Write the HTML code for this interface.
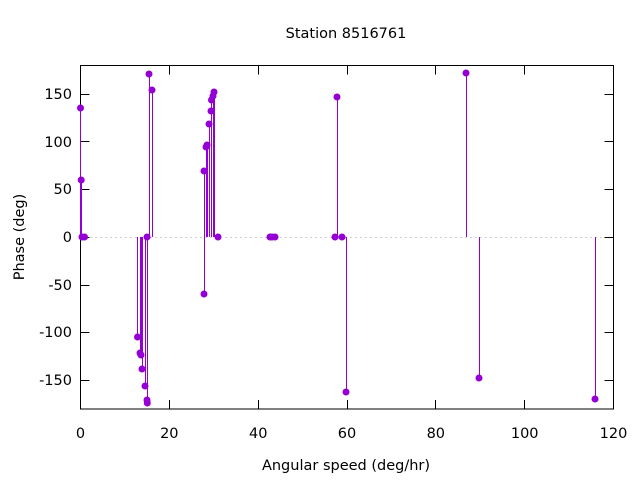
<!DOCTYPE html>
<html><head><meta charset="utf-8"><style>
html,body{margin:0;padding:0;background:#fff;}
svg{display:block;}
text{font-family:"DejaVu Sans","Liberation Sans",sans-serif;font-size:14.5px;fill:#000;}
</style></head><body>
<svg width="640" height="480" viewBox="0 0 640 480" xmlns="http://www.w3.org/2000/svg">
<rect width="640" height="480" fill="#fff"/>
<line x1="80.5" y1="237.5" x2="613.5" y2="237.5" stroke="#a0a0a0" stroke-width="1" stroke-dasharray="1,4"/>
<g stroke="#000" stroke-width="1" shape-rendering="crispEdges">
<rect x="80.5" y="65.5" width="533" height="343.5" fill="none"/>
<path d="M80.5 94.5h9M80.5 141.5h9M80.5 189.5h9M80.5 237.5h9M80.5 285.5h9M80.5 332.5h9M80.5 380.5h9
M613.5 94.5h-9M613.5 141.5h-9M613.5 189.5h-9M613.5 237.5h-9M613.5 285.5h-9M613.5 332.5h-9M613.5 380.5h-9"/>
<path d="M80.5 409v-9M169.5 409v-9M258.5 409v-9M347.5 409v-9M435.5 409v-9M524.5 409v-9M613.5 409v-9
M80.5 65.5v9M169.5 65.5v9M258.5 65.5v9M347.5 65.5v9M435.5 65.5v9M524.5 65.5v9M613.5 65.5v9"/>
</g>
<g text-anchor="end">
<text x="72" y="99">150</text><text x="72" y="147">100</text><text x="72" y="194">50</text>
<text x="72" y="242">0</text><text x="72" y="290">-50</text><text x="72" y="337">-100</text><text x="72" y="385">-150</text>
</g>
<g text-anchor="middle">
<text x="80.5" y="438">0</text><text x="169.3" y="438">20</text><text x="258.2" y="438">40</text>
<text x="347" y="438">60</text><text x="435.8" y="438">80</text><text x="524.7" y="438">100</text><text x="613.5" y="438">120</text>
<text x="346" y="38">Station 8516761</text>
<text x="346" y="470">Angular speed (deg/hr)</text>
<text transform="translate(24,237) rotate(-90)">Phase (deg)</text>
</g>
<g fill="#9400d3">
<path stroke="#9400d3" stroke-width="1" shape-rendering="crispEdges" d="M80.5 237V108M81.5 237V180M137.5 237V337M140.5 237V353M141.5 237V351M142.5 237V369M145.5 237V386M147.5 237V403M149.5 237V74M152.5 237V90M204.5 237V171M204.5 237V294M206.5 237V147M207.5 237V145M209.5 237V124M211.5 237V100M213.5 237V96M214.5 237V92M337.5 237V97M346.5 237V392M466.5 237V73M479.5 237V378M595.5 237V399"/>
<circle cx="80.5" cy="108" r="3.5"/><circle cx="81.2" cy="180" r="3.5"/><circle cx="82" cy="237" r="3.5"/><circle cx="84.5" cy="237" r="3.5"/>
<circle cx="137.5" cy="337" r="3.5"/><circle cx="140" cy="353" r="3.5"/><circle cx="141" cy="355" r="3.5"/><circle cx="142" cy="369" r="3.5"/>
<circle cx="145" cy="386" r="3.5"/><circle cx="147" cy="400" r="3.5"/><circle cx="147.3" cy="403" r="3.5"/><circle cx="147" cy="237" r="3.5"/>
<circle cx="149" cy="74" r="3.5"/><circle cx="152" cy="90" r="3.5"/>
<circle cx="204" cy="171" r="3.5"/><circle cx="204" cy="294" r="3.5"/><circle cx="206" cy="147" r="3.5"/><circle cx="207" cy="145" r="3.5"/>
<circle cx="209" cy="124" r="3.5"/><circle cx="211" cy="111" r="3.5"/><circle cx="211.5" cy="100" r="3.5"/><circle cx="213" cy="96" r="3.5"/><circle cx="214" cy="92" r="3.5"/>
<circle cx="218" cy="237" r="3.5"/>
<circle cx="270" cy="237" r="3.5"/><circle cx="272" cy="237" r="3.5"/><circle cx="275" cy="237" r="3.5"/>
<circle cx="335" cy="237" r="3.5"/><circle cx="337" cy="97" r="3.5"/><circle cx="342" cy="237" r="3.5"/><circle cx="346" cy="392" r="3.5"/>
<circle cx="466" cy="73" r="3.5"/><circle cx="479" cy="378" r="3.5"/><circle cx="595" cy="399" r="3.5"/>
</g>
</svg>
</body></html>
